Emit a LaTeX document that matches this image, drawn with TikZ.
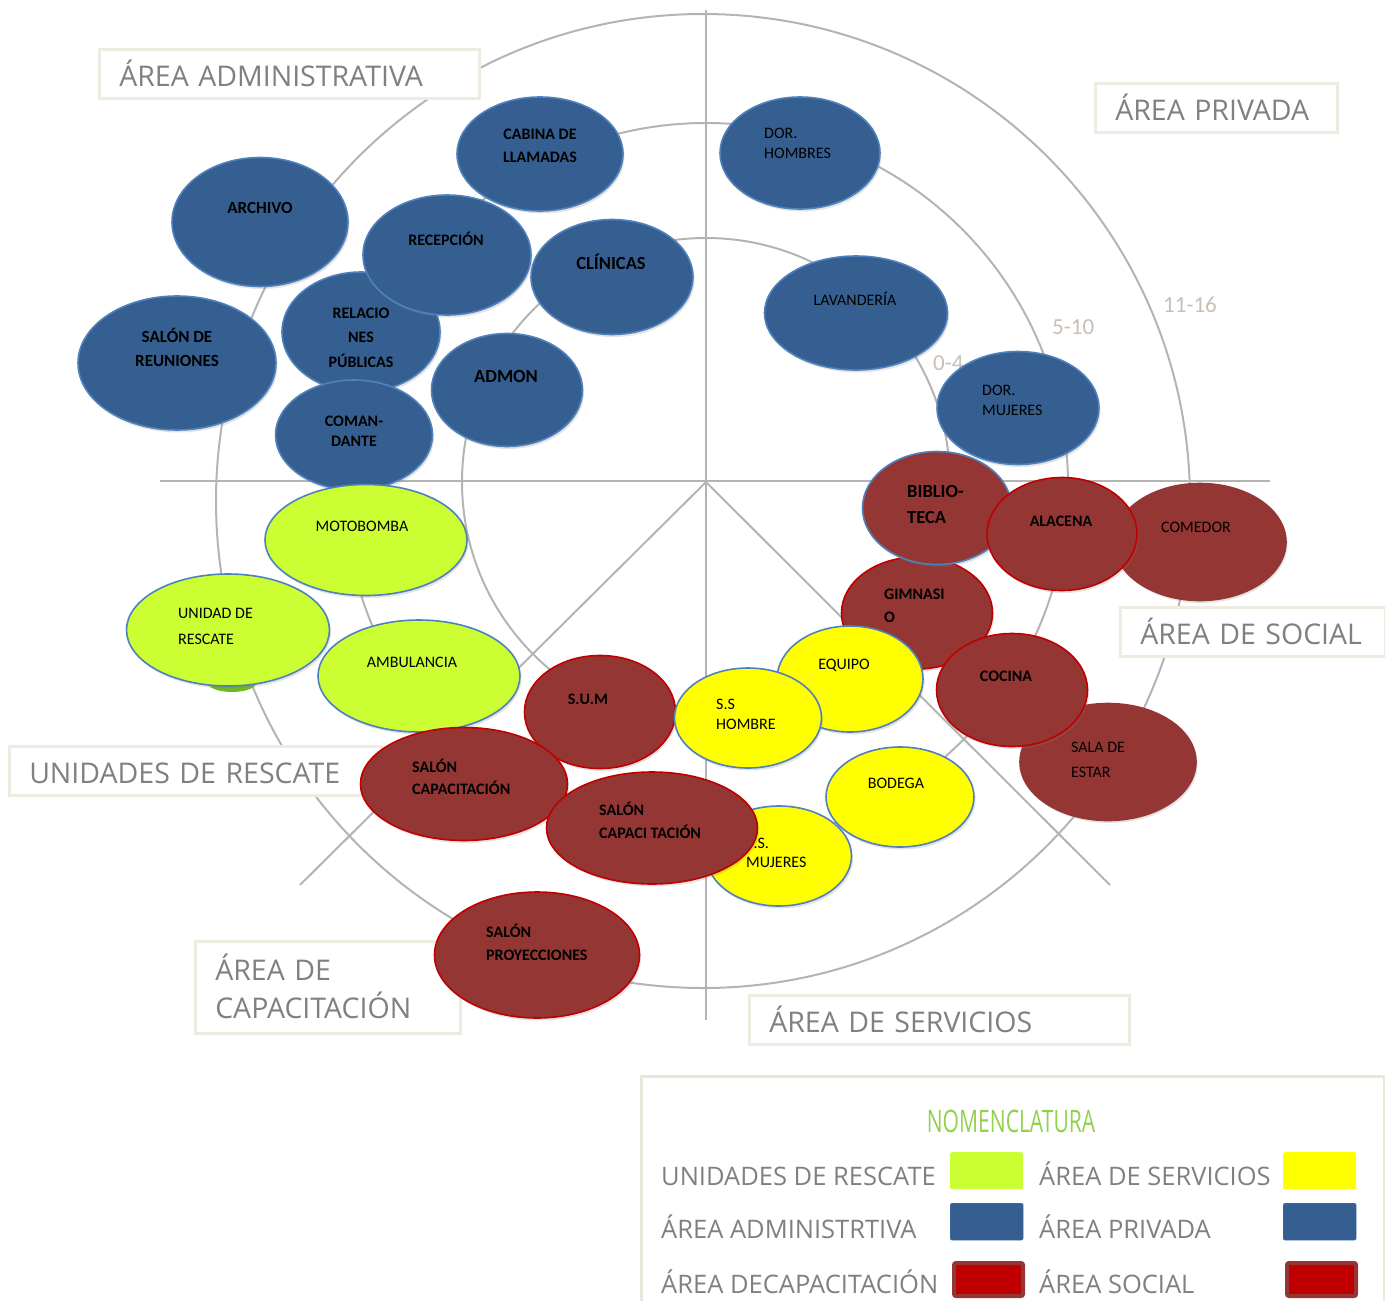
\documentclass[tikz,border=0pt]{standalone}
\usepackage{fontspec}
\setmainfont{Carlito}
\newfontfamily\opensans{Open Sans}
\usetikzlibrary{shapes.geometric,shadows}
\definecolor{azul}{HTML}{365F91}
\definecolor{azulb}{HTML}{4F81BD}
\definecolor{verde}{HTML}{CCFF33}
\definecolor{verdeosc}{HTML}{6FB81E}
\definecolor{amarillo}{HTML}{FFFF00}
\definecolor{rojo}{HTML}{943634}
\definecolor{rojob}{HTML}{C00000}
\definecolor{gris}{HTML}{808080}
\definecolor{lineagris}{HTML}{B4B4B4}
\definecolor{beige}{HTML}{EEECE1}
\definecolor{verdeclaro}{HTML}{E5EAD8}
\definecolor{verdetit}{HTML}{92D050}
\definecolor{tinta}{HTML}{C8BFB6}
\begin{document}
\begin{tikzpicture}[x=1pt,y=-1pt,
  linea/.style={draw=lineagris,line width=2pt},
  sala/.style={ellipse,inner sep=0pt,line width=1.6pt,drop shadow={opacity=.22,shadow xshift=1.5pt,shadow yshift=-2.5pt}},
  wh/.style 2 args={minimum width=#1pt,minimum height=#2pt},
  adm/.style={sala,fill=azul,draw=azulb},
  res/.style={sala,fill=verde,draw=azulb},
  ser/.style={sala,fill=amarillo,draw=azulb},
  soc/.style={sala,fill=rojo,draw=rojob},
  tb/.style={anchor=base,align=center,inner sep=0pt,font=\fontsize{16}{23}\selectfont\bfseries},
  tbl/.style={tb,anchor=base west,align=left},
  tr/.style={tb,font=\fontsize{16}{20}\selectfont},
  trl/.style={tr,anchor=base west,align=left},
  rango/.style={anchor=base west,inner sep=0pt,text=tinta,font=\fontsize{23}{23}\selectfont},
  caja/.style={draw=beige,line width=2.5pt,fill=white,text=gris,font=\opensans\fontsize{28.5}{38}\selectfont,
    anchor=north west,inner xsep=20pt,inner ysep=0pt,align=left,text height=25pt,text depth=0pt,minimum height=49pt},
  ley/.style={anchor=base west,inner sep=0pt,text=gris,font=\opensans\fontsize{25.5}{30}\selectfont},
  muestra/.style={anchor=north west,minimum width=73pt,minimum height=37pt,inner sep=0pt,rounded corners=2pt}]
\useasboundingbox (0,0) rectangle (1385,1301);
% circles and axes
\coordinate (centro) at (706,482);
\coordinate (norte) at (706,10);
\coordinate (sur) at (706,1020);
\coordinate (oeste) at (160,481);
\coordinate (este) at (1270,481);
\coordinate (so) at (300,885);
\coordinate (se) at (1110,885);
\draw[linea] (centro) circle [radius=244];
\draw[linea] (706,485) circle [radius=362];
\draw[linea] (703,501) circle [radius=487];
\draw[linea] (norte) -- (sur);
\draw[linea] (oeste) -- (este);
\draw[linea] (so) -- (centro) -- (se);
\node[rango] (r1) at (933,370) {0-4};
\node[rango] (r2) at (1052,334) {5-10};
\node[rango] (r3) at (1163,312) {11-16};
% area labels
\node[caja,text width=340pt] (b-adm) at (98,48) {ÁREA ADMINISTRATIVA};
\node[caja,text width=202pt] (b-priv) at (1094,82) {ÁREA PRIVADA};
\node[caja,text width=225pt] (b-soc) at (1119,606) {ÁREA DE SOCIAL};
\node[caja,text width=332pt] (b-res) at (8,745) {UNIDADES DE RESCATE};
\node[caja,text width=340pt] (b-serv) at (748,994) {ÁREA DE SERVICIOS};
\node[caja,text width=225pt,minimum height=92pt,text depth=38pt] (b-cap) at (194,940) {ÁREA DE\\CAPACITACIÓN};
% administrative and private rooms (multi-line texts sit on their last line)
\node[adm,wh={198}{134}] (reuniones) at (177,363) {};
\node[tb,font=\fontsize{17}{24}\selectfont\bfseries] (reuniones-t) at (177,366) {SALÓN DE\\REUNIONES};
\node[adm,wh={176}{129}] (archivo) at (260,222) {};
\node[tb,font=\fontsize{17}{24}\selectfont\bfseries] (archivo-t) at (260,213) {ARCHIVO};
\node[adm,wh={158}{120}] (relaciones) at (361,332) {};
\node[tb,font=\fontsize{16}{24.5}\selectfont\bfseries] (relaciones-t) at (361,367) {RELACIO\\NES\\PÚBLICAS};
\node[adm,wh={166}{114}] (cabina) at (540,154) {};
\node[tb] (cabina-t) at (540,162) {CABINA DE\\LLAMADAS};
\node[adm,wh={168}{120}] (recepcion) at (447,255) {};
\node[tb] (recepcion-t) at (446,245) {RECEPCIÓN};
\node[adm,wh={162}{115}] (clinicas) at (612,277) {};
\node[tb,font=\fontsize{18.5}{24}\selectfont\bfseries] (clinicas-t) at (611,269) {CLÍNICAS};
\node[adm,wh={151}{113}] (admon) at (507,390) {};
\node[tb,font=\fontsize{18.5}{24}\selectfont\bfseries] (admon-t) at (506,382) {ADMON};
\node[adm,wh={157}{110}] (comandante) at (354,435) {};
\node[tb,font=\fontsize{16}{20}\selectfont\bfseries] (comandante-t) at (354,446) {COMAN-\\DANTE};
\node[adm,wh={160}{112}] (dorh) at (800,153) {};
\node[trl] (dorh-t) at (764,158) {DOR.\\HOMBRES};
\node[adm,wh={183}{114}] (lavanderia) at (856,313) {};
\node[tr] (lavanderia-t) at (855,305) {LAVANDERÍA};
\node[adm,wh={162}{113}] (dorm) at (1018,408) {};
\node[trl] (dorm-t) at (982,415) {DOR.\\MUJERES};
% rescue units
\fill[verdeosc] (232,683) ellipse [x radius=24, y radius=9];
\node[res,wh={202}{111}] (motobomba) at (366,540) {};
\node[tr] (motobomba-t) at (362,531) {MOTOBOMBA};
\node[res,wh={203}{112}] (unidad) at (228,630) {};
\node[trl,font=\fontsize{16}{26}\selectfont] (unidad-t) at (178,644) {UNIDAD DE\\RESCATE};
\node[res,wh={202}{112}] (ambulancia) at (419,676) {};
\node[tr] (ambulancia-t) at (412,667) {AMBULANCIA};
% social and training rooms
\node[soc,draw=rojo,wh={172}{117}] (comedor) at (1200,542) {};
\node[tr] (comedor-t) at (1196,532) {COMEDOR};
\node[soc,wh={151}{112}] (gimnasio) at (917,613) {};
\node[tbl] (gimnasio-t) at (884,622) {GIMNASI\\O};
\node[soc,draw=azulb,wh={149}{113}] (biblioteca) at (937,508) {};
\node[tbl,font=\fontsize{18.5}{26}\selectfont\bfseries] (biblioteca-t) at (907,523) {BIBLIO-\\TECA};
\node[soc,wh={150}{113}] (alacena) at (1062,534) {};
\node[tb] (alacena-t) at (1061,526) {ALACENA};
\node[soc,draw=rojo,wh={176}{117}] (estar) at (1108,762) {};
\node[trl,font=\fontsize{16}{25}\selectfont] (estar-t) at (1071,777) {SALA DE\\ESTAR};
\node[soc,wh={151}{113}] (cocina) at (1012,690) {};
\node[tb] (cocina-t) at (1006,681) {COCINA};
\node[soc,wh={151}{113}] (sum) at (600,712) {};
\node[tb] (sum-t) at (588,704) {S.U.M};
\node[soc,wh={207}{113}] (capacitacion) at (464,784) {};
\node[tbl,font=\fontsize{16}{22}\selectfont\bfseries] (capacitacion-t) at (412,794) {SALÓN\\CAPACITACIÓN};
\node[soc,wh={205}{126}] (proyecciones) at (537,955) {};
\node[tbl] (proyecciones-t) at (486,960) {SALÓN\\PROYECCIONES};
% services
\node[ser,wh={146}{106}] (equipo) at (850,679) {};
\node[tr] (equipo-t) at (844,669) {EQUIPO};
\node[ser,wh={147}{100}] (sshombres) at (748,718) {};
\node[trl] (sshombres-t) at (716,729) {S.S\\HOMBRE};
\node[ser,wh={148}{100}] (bodega) at (900,797) {};
\node[tr] (bodega-t) at (896,788) {BODEGA};
\node[ser,wh={145}{100}] (ssmujeres) at (779,856) {};
\node[trl,font=\fontsize{16}{19}\selectfont] (ssmujeres-t) at (746,867) {S.S.\\MUJERES};
\node[soc,wh={211}{112}] (capacitacion2) at (652,828) {};
\node[tbl] (capacitacion2-t) at (599,838) {SALÓN\\CAPACI TACIÓN};
% legend
\node[draw=verdeclaro,line width=2.5pt,anchor=north west,minimum width=743pt,minimum height=240pt,inner sep=0pt] (nomenclatura) at (640,1075) {};
\node[anchor=base,inner sep=0pt,text=verdetit,font=\opensans\fontsize{31}{31}\selectfont] (titulo) at (1011,1132) {\scalebox{0.68}[1]{NOMENCLATURA}};
\node[ley] (l-res) at (661,1185) {UNIDADES DE RESCATE};
\node[ley] (l-adm) at (661,1238) {ÁREA ADMINISTRTIVA};
\node[ley] (l-cap) at (661,1293) {ÁREA DECAPACITACIÓN};
\node[ley] (l-serv) at (1039,1185) {ÁREA DE SERVICIOS};
\node[ley] (l-priv) at (1039,1238) {ÁREA PRIVADA};
\node[ley] (l-soc) at (1039,1293) {ÁREA SOCIAL};
\node[muestra,fill=verde] (m-res) at (950,1152) {};
\node[muestra,fill=amarillo] (m-serv) at (1283,1152) {};
\node[muestra,fill=azul,draw=azulb!60!azul] (m-adm) at (950,1203) {};
\node[muestra,fill=azul,draw=azulb!60!azul] (m-priv) at (1283,1203) {};
\node[muestra,fill=rojob,draw=rojo,line width=4pt,minimum width=69pt,minimum height=33pt] (m-cap) at (952,1261) {};
\node[muestra,fill=rojob,draw=rojo,line width=4pt,minimum width=69pt,minimum height=33pt] (m-soc) at (1285,1261) {};
\end{tikzpicture}
\end{document}
